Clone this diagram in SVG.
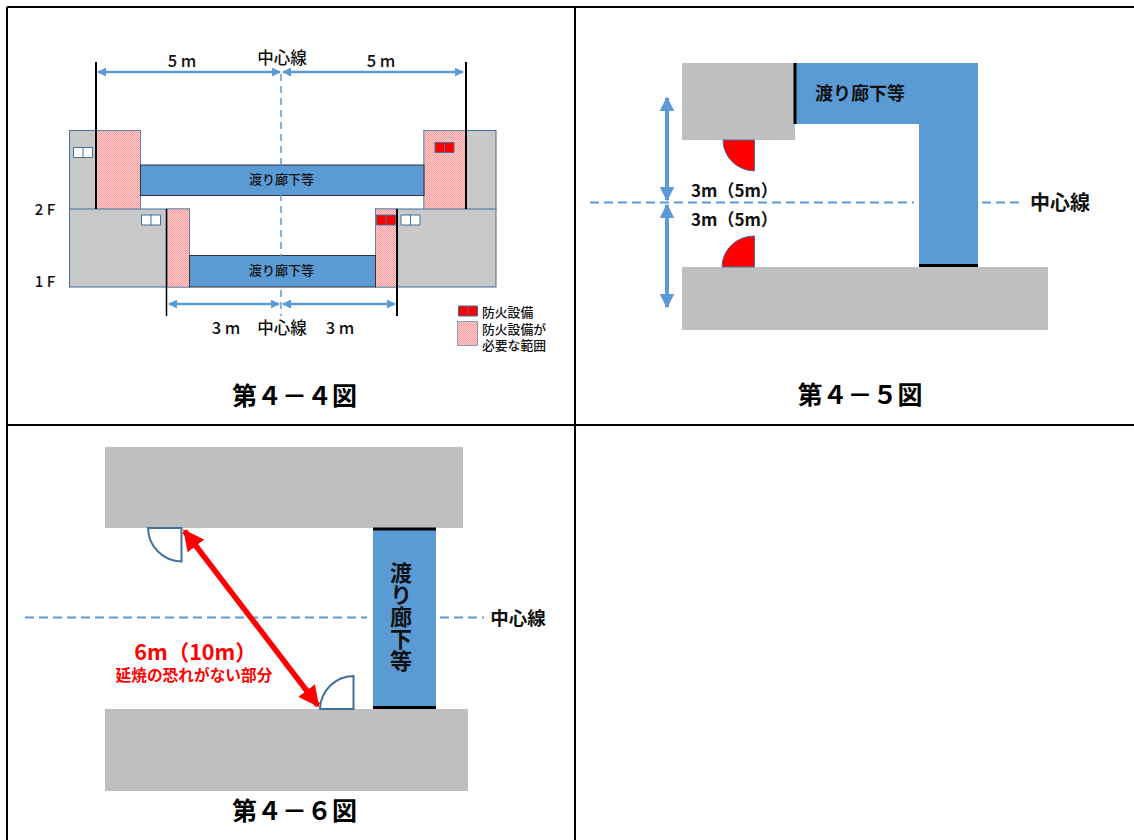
<svg xmlns="http://www.w3.org/2000/svg" width="1134" height="840" viewBox="0 0 1134 840">
<style>
text{font-family:"Noto Sans CJK JP","Liberation Sans",sans-serif;fill:#111;font-weight:500}
.s{font-size:13px;text-anchor:middle}
.m{font-size:16.500px;text-anchor:middle}
.l{font-size:12.800px}
.t{font-size:25px;font-weight:700;text-anchor:middle;fill:#000}
.bd{font-weight:700}
.c{text-anchor:middle}
.g1{fill:#c8c8c8;stroke:#41719c;stroke-width:1}
.g2{fill:#bfbfbf}
.b{fill:#5b9bd5}
.bo{fill:#5b9bd5;stroke:#333;stroke-width:1}
.h{fill:url(#hatch);stroke:#41719c;stroke-width:.6}
.bk{stroke:#000;fill:none}
.dash{stroke:#5b9bd5;stroke-width:1.500;stroke-dasharray:7 5;fill:none}
.dash2{stroke:#5b9bd5;stroke-width:2;stroke-dasharray:9 5;fill:none}
.ar{stroke:#5b9bd5;stroke-width:2.500;fill:none}
.ar2{stroke:#5b9bd5;stroke-width:4;fill:none}
.win{fill:#fff;stroke:#41719c;stroke-width:1}
.red{fill:#f00;stroke:#41719c;stroke-width:1}
.door{fill:#fff;stroke:#41719c;stroke-width:2}
.frame{stroke:#000;stroke-width:2;fill:none}
</style>
<defs>
<pattern id="hatch" width="2" height="2" patternUnits="userSpaceOnUse"><rect width="2" height="2" fill="#ffd6d6"/><rect width="1" height="1" fill="#fb9595"/><rect x="1" y="1" width="1" height="1" fill="#fb9595"/></pattern>
<marker id="a" viewBox="0 0 10 10" refX="9" refY="5" markerWidth="3.600" markerHeight="3.600" orient="auto-start-reverse" markerUnits="strokeWidth"><path d="M0 0L10 5L0 10Z" fill="#5b9bd5"/></marker>
<marker id="R" viewBox="0 0 10 10" refX="9" refY="5" markerWidth="3.800" markerHeight="3.800" orient="auto-start-reverse" markerUnits="strokeWidth"><path d="M0 0L10 5L0 10Z" fill="#f00"/></marker>
</defs>
<g id="frame">
<path class="frame" d="M7 7H1134M7 7V840M575 7V840M7 425H1134"/>
</g>
<g id="fig4-4">
<rect class="g1" x="69.500" y="130.500" width="71" height="79"/>
<rect class="h" x="96" y="130.500" width="44.500" height="79"/>
<rect class="g1" x="424" y="130.500" width="72" height="79"/>
<rect class="h" x="424" y="130.500" width="42" height="79"/>
<rect class="bo" x="140.500" y="165" width="283.500" height="30.500"/>
<rect class="g1" x="69.500" y="209" width="120" height="78"/>
<rect class="h" x="167" y="209" width="22.500" height="78"/>
<rect class="g1" x="375.500" y="209" width="120.500" height="78"/>
<rect class="h" x="375.500" y="209" width="21.500" height="78"/>
<rect class="bo" x="189.500" y="255.500" width="186" height="31.500"/>
<path class="dash" d="M281 74V316"/>
<path class="bk" stroke-width="2" d="M96 62V209M466 62V209"/>
<path class="bk" stroke-width="1.500" d="M166.500 209V316"/>
<path class="bk" stroke-width="2" d="M397 209V316"/>
<path class="ar" marker-start="url(#a)" marker-end="url(#a)" d="M98 72H280"/>
<path class="ar" marker-start="url(#a)" marker-end="url(#a)" d="M283 72H463"/>
<path class="ar" marker-start="url(#a)" marker-end="url(#a)" d="M169 304H279"/>
<path class="ar" marker-start="url(#a)" marker-end="url(#a)" d="M283 304H395"/>
<path class="win" d="M73.500 147.500h19v10h-19zM83 147.500v10"/>
<path class="win" d="M141.500 215h19v10h-19zM151 215v10"/>
<path class="win" d="M401 215h19v10h-19zM410.500 215v10"/>
<path class="red" d="M435 142.500h19v10h-19zM444.500 142.500v10"/>
<path class="red" d="M376.500 215h19v10h-19zM386 215v10"/>
<path class="red" d="M458.500 306h19v10h-19zM468 306v10"/>
<rect class="h" x="457.500" y="321.500" width="20" height="24"/>
<text class="s" x="281.500" y="184">渡り廊下等</text>
<text class="s" x="281.500" y="275">渡り廊下等</text>
<text class="m" x="182" y="67">5 m</text>
<text class="m" x="282" y="64">中心線</text>
<text class="m" x="381" y="67">5 m</text>
<text class="m" x="226" y="334">3 m</text>
<text class="m" x="282" y="334">中心線</text>
<text class="m" x="340" y="334">3 m</text>
<text class="m" x="45" y="215" style="font-size:15px">2 F</text>
<text class="m" x="45" y="287" style="font-size:15px">1 F</text>
<text class="l" x="482" y="317">防火設備</text>
<text class="l" x="482" y="334">防火設備が<tspan x="482" y="350">必要な範囲</tspan></text>
<text class="t" x="294.500" y="405">第４－４図</text>
</g>
<g id="fig4-5">
<rect class="g2" x="682" y="63" width="113" height="77"/>
<path class="b" d="M795 63H978V267H919V124H795Z"/>
<rect class="g2" x="682" y="267" width="366" height="63"/>
<path class="bk" stroke-width="3" d="M795 63V124M919 265.500H978"/>
<path class="red" d="M754.500 140V171A32 31 0 0 1 723 140Z"/>
<path class="red" d="M754.500 267V236A32 31 0 0 0 722 267Z"/>
<path class="dash2" d="M590 202.500H914M982 202.500H1024"/>
<path class="ar2" marker-start="url(#a)" marker-end="url(#a)" d="M667 98V200"/>
<path class="ar2" marker-start="url(#a)" marker-end="url(#a)" d="M667 205V307"/>
<text class="bd c" x="860" y="100" style="font-size:18px">渡り廊下等</text>
<text class="bd" x="691" y="197" style="font-size:17px">3m（5m）</text>
<text class="bd" x="691" y="226" style="font-size:17px">3m（5m）</text>
<text class="bd c" x="1060" y="210" style="font-size:20px">中心線</text>
<text class="t" x="860" y="404">第４－５図</text>
</g>
<g id="fig4-6">
<rect class="g2" x="105" y="447" width="358" height="81"/>
<rect class="g2" x="105" y="709" width="363" height="82"/>
<rect class="b" x="373" y="528" width="63" height="181"/>
<path class="bk" stroke-width="3" d="M373 529H436M373 707.500H436"/>
<path class="door" d="M181.500 528V561.500A34 34 0 0 1 148 528Z"/>
<path class="door" d="M353.500 709V676A34 34 0 0 0 320 709Z"/>
<path class="dash2" d="M25 617.500H367M440 617.500H484"/>
<path style="stroke:#f00;stroke-width:5.500;fill:none" marker-start="url(#R)" marker-end="url(#R)" d="M184.500 531L318 705.500"/>
<text class="bd" x="401" y="562" style="font-size:22px;writing-mode:vertical-rl;text-orientation:upright">渡り廊下等</text>
<text class="bd c" x="518" y="625" style="font-size:18.500px">中心線</text>
<text class="bd c" x="195.500" y="660" style="font-size:21.500px;fill:#f00">6m（10m）<tspan x="194" y="681" style="font-size:15.700px">延焼の恐れがない部分</tspan></text>
<text class="t" x="294.500" y="820">第４－６図</text>
</g>
</svg>
